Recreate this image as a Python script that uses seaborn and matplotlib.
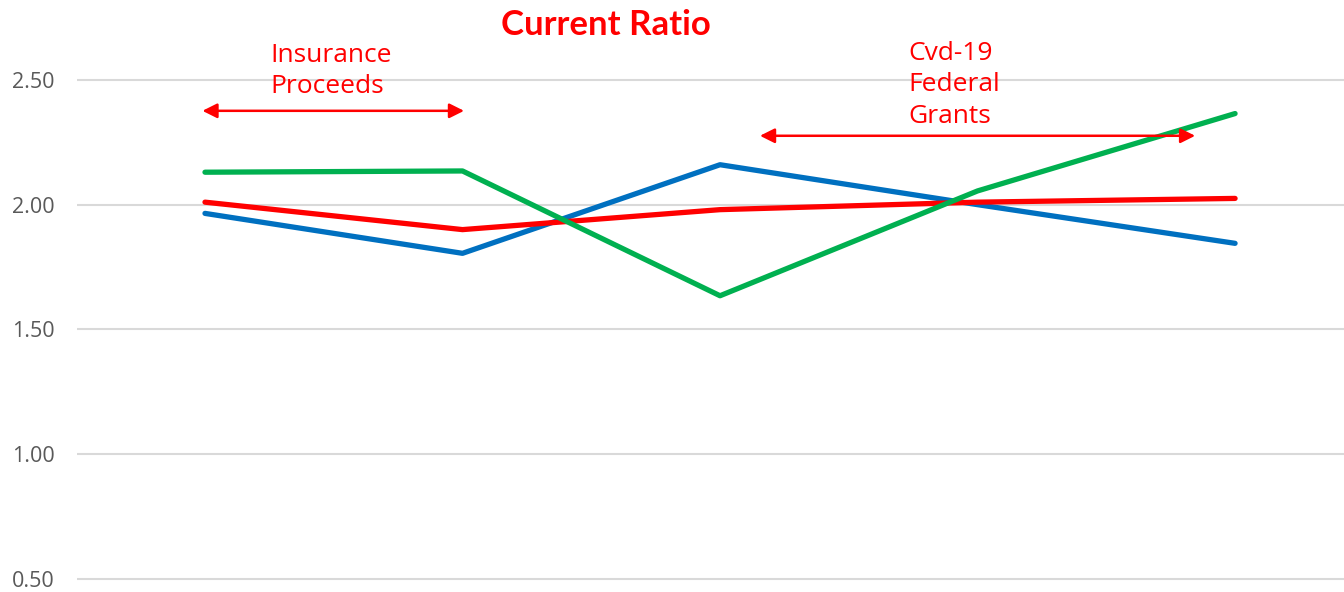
import pandas as pd
import numpy as np
import matplotlib.pyplot as plt
import seaborn as sns

# data
periods = ["P1", "P2", "P3", "P4", "P5"]
blue_vals = [1.965, 1.805, 2.160, 2.000, 1.845]
red_vals = [2.010, 1.900, 1.980, 2.010, 2.025]
green_vals = [2.130, 2.135, 1.635, 2.055, 2.365]
series_names = ["Blue", "Red", "Green"]
series_colors = ["#0070C0", "#FF0000", "#00B050"]
y_ticks = [0.50, 1.00, 1.50, 2.00, 2.50]

df = pd.DataFrame({
    "Period": periods * 3,
    "Ratio": blue_vals + red_vals + green_vals,
    "Series": [s for s in series_names for _ in periods],
})

sns.set_style("white")
plt.rcParams["font.family"] = ["Lato", "DejaVu Sans"]

fig = plt.figure(figsize=(13.44, 5.92), dpi=100)
ax = fig.add_axes([77 / 1344, 0, 1 - 77 / 1344, 1])

sns.lineplot(data=df, x="Period", y="Ratio", hue="Series", sort=False,
             palette=series_colors, linewidth=3.8, legend=False, ax=ax)
for line in ax.lines:
    line.set_solid_capstyle("round")

ax.set_xlim(-0.497, 4.423)
ax.set_ylim(0.448, 2.82)
ax.set_yticks(y_ticks)
ax.set_yticklabels([f"{v:.2f}" for v in y_ticks], fontsize=15.5, color="#595959",
                   family=["Open Sans", "DejaVu Sans"])
ax.tick_params(axis="y", length=0, pad=16)
ax.set_xticks([])
ax.set_xlabel("")
ax.set_ylabel("")
ax.grid(axis="y", color="#D9D9D9", linewidth=1.5)
ax.set_axisbelow(True)
for sp in ax.spines.values():
    sp.set_visible(False)

# annotations
arrow = dict(arrowstyle="<|-|>", color="#FF0000", lw=1.8, mutation_scale=22,
             shrinkA=0, shrinkB=0)
ax.annotate("", xy=(-0.01, 2.376), xytext=(1.006, 2.376), arrowprops=arrow)
ax.annotate("", xy=(2.155, 2.276), xytext=(3.845, 2.276), arrowprops=arrow)
ax.text(0.252, 2.536, "Insurance\nProceeds", color="#FF0000", fontsize=19,
        ha="left", va="center", linespacing=1.35,
        family=["Open Sans", "DejaVu Sans"])
ax.text(2.73, 2.48, "Cvd-19\nFederal\nGrants", color="#FF0000", fontsize=19,
        ha="left", va="center", linespacing=1.35,
        family=["Open Sans", "DejaVu Sans"])

fig.text(606 / 1344, 1 - 25 / 592, "Current Ratio", color="#FF0000",
         fontsize=25, fontweight="bold", ha="center", va="center")

fig.savefig("out.png", dpi=100)
